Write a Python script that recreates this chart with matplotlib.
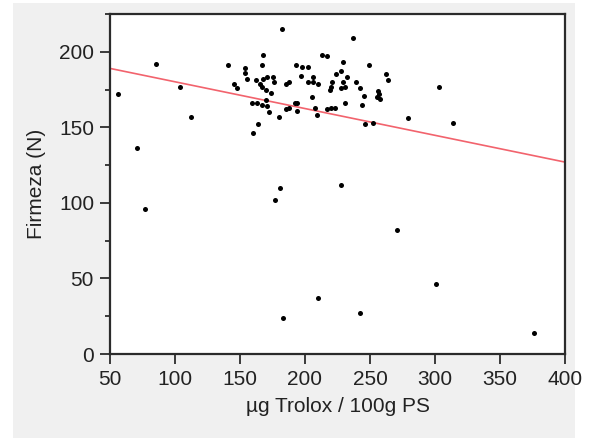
import numpy as np
import matplotlib.pyplot as plt
from matplotlib.patches import Rectangle
from matplotlib.ticker import MultipleLocator

# -----------------------------
# DATA
# -----------------------------
trolox = [56, 71, 77, 85, 104, 112, 141, 145, 148, 154,
          154, 155, 159, 160, 163, 164, 162, 165, 167, 170,
          174, 168, 171, 175, 176, 167, 168, 167, 170, 171,
          172, 177, 180, 181, 182, 183, 185, 188, 185, 188,
          192, 194, 194, 193, 198, 202, 197, 202, 206, 210,
          206, 205, 208, 209, 210, 213, 217, 217, 220, 223,
          219, 220, 221, 224, 228, 229, 228, 231, 229, 232,
          231, 228, 237, 239, 242, 245, 244, 242, 249, 246,
          252, 255, 257, 256, 258, 262, 264, 271, 279, 301,
          303, 314, 376]
firmeza = [172, 136, 96, 192, 177, 157, 191, 179, 176, 189,
           186, 182, 166, 146, 166, 152, 181, 179, 177, 175,
           173, 182, 183, 183, 180, 191, 198, 165, 168, 164,
           160, 102, 157, 110, 215, 24, 162, 163, 179, 180,
           166, 166, 161, 191, 190, 190, 184, 180, 180, 179,
           183, 170, 163, 158, 37, 198, 197, 162, 163, 163,
           175, 177, 180, 185, 187, 193, 176, 177, 180, 183,
           166, 112, 209, 180, 176, 171, 165, 27, 191, 152,
           153, 170, 172, 174, 169, 185, 181, 82, 156, 46,
           177, 153, 14]

# linear fit line as drawn in the reference
fit_x = [50, 400]
fit_y = [189, 127]

xticks = [50, 100, 150, 200, 250, 300, 350, 400]
yticks = [0, 50, 100, 150, 200]

plt.rcParams['font.family'] = ['Liberation Sans', 'DejaVu Sans']

fig = plt.figure(figsize=(5.92, 4.4), dpi=100, facecolor='white')
# light gray panel behind the plot
fig.patches.append(Rectangle((13 / 592, 2 / 440), 562 / 592, 435 / 440,
                             transform=fig.transFigure, facecolor='#f0f0f0',
                             edgecolor='none', zorder=-5))

ax = fig.add_axes([110 / 592, 86 / 440, 455 / 592, 340 / 440])
ax.set_facecolor('white')

ax.plot(fit_x, fit_y, color='#f2636d', lw=1.2, zorder=2)
ax.scatter(trolox, firmeza, s=13, color='black', marker='o', lw=0, zorder=3)

ax.set_xlim(50, 400)
ax.set_ylim(0, 225)
ax.set_xticks(xticks)
ax.set_yticks(yticks)
ax.yaxis.set_minor_locator(MultipleLocator(25))

ax.set_xlabel('µg Trolox / 100g PS', fontsize=15, color='#222222', labelpad=6)
ax.set_ylabel('Firmeza (N)', fontsize=15, color='#222222', labelpad=9)

ax.tick_params(axis='both', which='major', length=7.5, width=1.3,
               labelsize=15, labelcolor='#222222', color='#2b2b2b', pad=4)
ax.tick_params(axis='y', which='minor', length=3.5, width=1.3, color='#2b2b2b')
for s in ax.spines.values():
    s.set_linewidth(1.6)
    s.set_color('#2b2b2b')

fig.savefig('out.png', dpi=100)
